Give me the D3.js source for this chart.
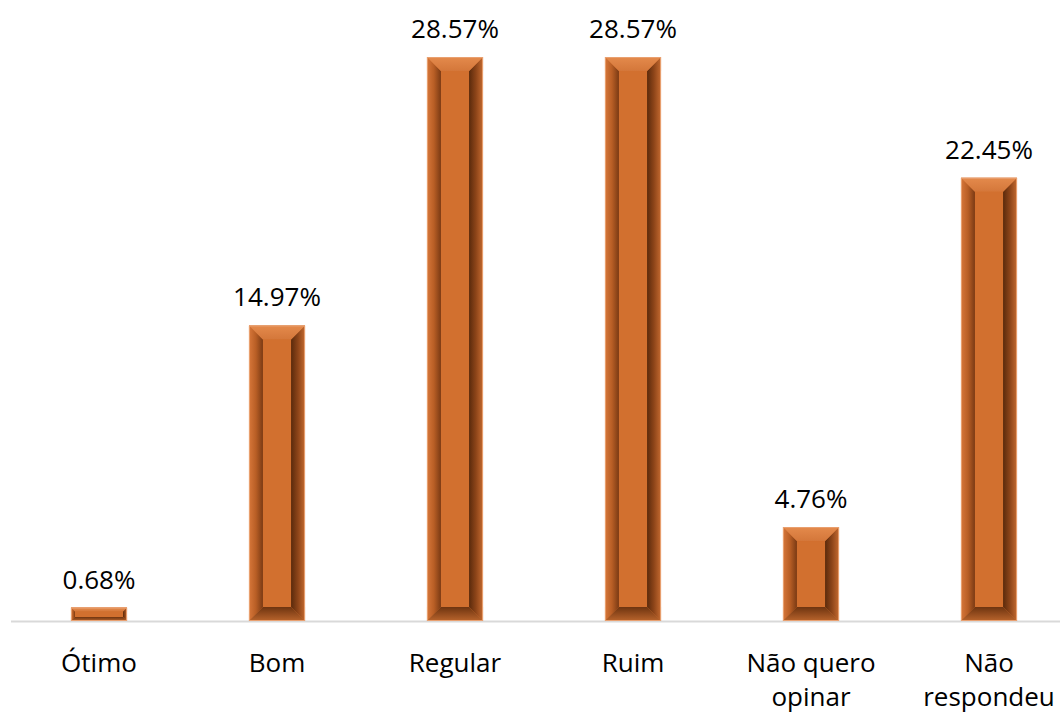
<!DOCTYPE html>
<html><head><meta charset="utf-8">
<script src="https://cdn.jsdelivr.net/npm/d3@7"></script>
<style>body{margin:0;background:#fff;} svg{display:block;}</style>
</head><body>
<script>
const categories = [["Ótimo"], ["Bom"], ["Regular"], ["Ruim"], ["Não quero", "opinar"], ["Não", "respondeu"]];
const values = [0.68, 14.97, 28.57, 28.57, 4.76, 22.45];
const valueLabels = ["0.68%", "14.97%", "28.57%", "28.57%", "4.76%", "22.45%"];

const W = 1060, H = 718;
const svg = d3.select("body").append("svg").attr("width", W).attr("height", H);
const defs = svg.append("defs");

const keys = categories.map(c => c.join(" "));
const x = d3.scaleBand().domain(keys).range([10, 1078]).paddingInner(0.685).paddingOuter(0.3425);
const y = d3.scaleLinear().domain([0, 28.57]).range([621, 57]);

function grad(id, x1, y1, x2, y2, stops) {
  const g = defs.append("linearGradient").attr("id", id)
    .attr("x1", x1).attr("y1", y1).attr("x2", x2).attr("y2", y2);
  stops.forEach(s => g.append("stop").attr("offset", s[0]).attr("stop-color", s[1]));
}
grad("gLeft", 0, 0, 1, 0, [[0, "#d7773a"], [0.5, "#b85e25"], [1, "#7a3a14"]]);
grad("gRight", 0, 0, 1, 0, [[0, "#5a2a0c"], [0.5, "#8e4519"], [1, "#c46a30"]]);
grad("gTop", 0, 0, 0, 1, [[0, "#e48a4c"], [1, "#d4773a"]]);
grad("gBottom", 0, 0, 0, 1, [[0, "#6e3410"], [1, "#b9642c"]]);

svg.append("line").attr("x1", 11).attr("x2", W).attr("y1", 621.5).attr("y2", 621.5)
  .attr("stroke", "#d9d9d9").attr("stroke-width", 2);

const font = "Open Sans, Lato, sans-serif";
const fs = 26;
const bars = svg.append("g");
values.forEach((v, i) => {
  const x0 = x(keys[i]), x1 = x0 + x.bandwidth();
  const y0 = y(v), y1 = y(0);
  const h = y1 - y0;
  const b = Math.min(14, h * 0.3);
  const ix0 = x0 + b, ix1 = x1 - b, iy0 = y0 + b, iy1 = y1 - b;
  const g = bars.append("g");
  const poly = (pts, fill) => g.append("polygon").attr("points", pts.map(p => p.join(",")).join(" ")).attr("fill", fill);
  poly([[x0, y0], [x1, y0], [x1, y1], [x0, y1]], "#d2702f");
  poly([[x0, y0], [ix0, iy0], [ix0, iy1], [x0, y1]], "url(#gLeft)");
  poly([[x1, y0], [ix1, iy0], [ix1, iy1], [x1, y1]], "url(#gRight)");
  poly([[x0, y0], [x1, y0], [ix1, iy0], [ix0, iy0]], "url(#gTop)");
  poly([[x0, y1], [x1, y1], [ix1, iy1], [ix0, iy1]], "url(#gBottom)");
  g.append("rect").attr("x", ix0).attr("y", iy0).attr("width", Math.max(0, ix1 - ix0)).attr("height", Math.max(0, iy1 - iy0)).attr("fill", "#d2702f");
  g.append("rect").attr("x", x0 + 0.5).attr("y", y0 + 0.5).attr("width", x1 - x0 - 1).attr("height", h - 1)
    .attr("fill", "none").attr("stroke", "#e9a070").attr("stroke-width", 1);

  svg.append("text").attr("x", x0 + x.bandwidth() / 2).attr("y", y0 - 19)
    .attr("text-anchor", "middle").attr("font-family", font)
    .attr("font-size", fs).attr("fill", "#000").text(valueLabels[i]);

  const t = svg.append("text").attr("text-anchor", "middle").attr("font-family", font)
    .attr("font-size", fs).attr("fill", "#000");
  categories[i].forEach((line, j) => {
    t.append("tspan").attr("x", x0 + x.bandwidth() / 2).attr("y", 672 + j * 34).text(line);
  });
});
</script>
</body></html>
